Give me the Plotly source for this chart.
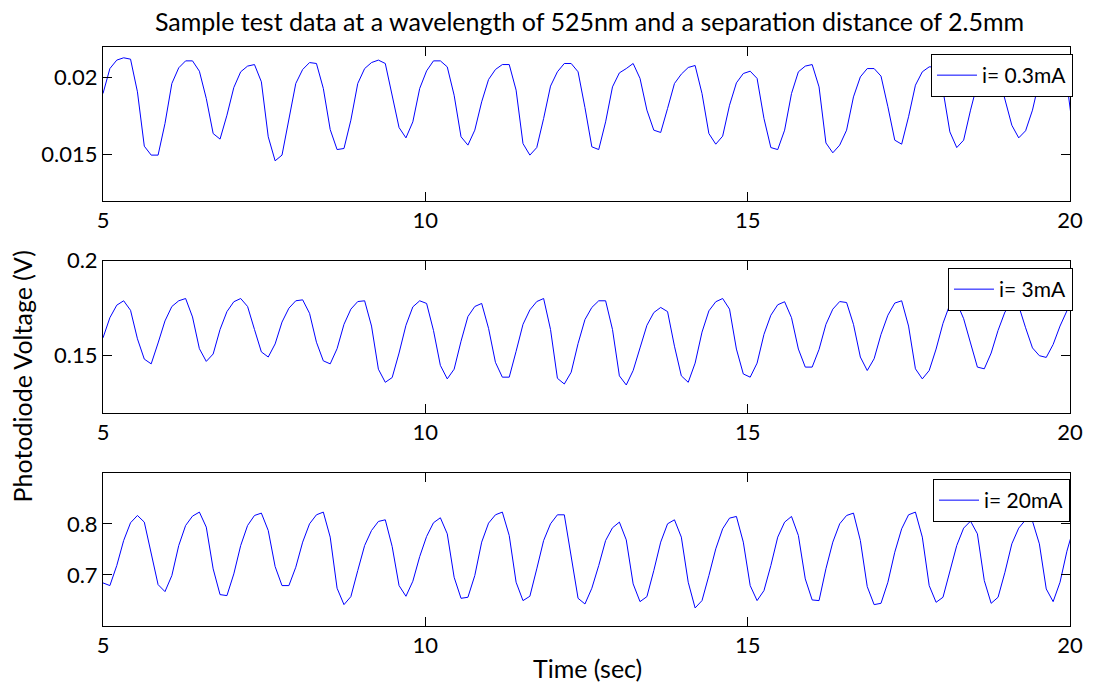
import plotly.graph_objects as go

# ---- data ----
T0 = 5.0          # first sample time (s)
DT = 0.1068       # sample spacing (s)

v_03mA = [0.01896, 0.02058, 0.02113, 0.02128, 0.02119, 0.01907, 0.01554, 0.01496, 0.01496, 0.01701,
          0.01961, 0.02063, 0.02108, 0.02108, 0.02041, 0.01864, 0.01636, 0.01600, 0.01755, 0.01935,
          0.02037, 0.02074, 0.02084, 0.01972, 0.01615, 0.01459, 0.01496, 0.01723, 0.01961, 0.02052,
          0.02097, 0.02091, 0.01929, 0.01662, 0.01532, 0.01539, 0.01723, 0.01961, 0.02058, 0.02097,
          0.02113, 0.02091, 0.01885, 0.01675, 0.01608, 0.01712, 0.01929, 0.02043, 0.02108, 0.02108,
          0.02069, 0.01885, 0.01615, 0.01561, 0.01658, 0.01842, 0.01987, 0.02052, 0.02084, 0.02084,
          0.01918, 0.01571, 0.01496, 0.01545, 0.01734, 0.01944, 0.02037, 0.02091, 0.02091, 0.02037,
          0.01805, 0.01550, 0.01532, 0.01712, 0.01939, 0.02030, 0.02058, 0.02091, 0.01994, 0.01788,
          0.01658, 0.01643, 0.01799, 0.01961, 0.02022, 0.02065, 0.02078, 0.01896, 0.01636, 0.01567,
          0.01619, 0.01820, 0.01965, 0.02026, 0.02041, 0.01994, 0.01734, 0.01545, 0.01532, 0.01658,
          0.01896, 0.02037, 0.02074, 0.02084, 0.01939, 0.01575, 0.01511, 0.01561, 0.01658, 0.01874,
          0.02004, 0.02058, 0.02058, 0.02009, 0.01810, 0.01593, 0.01567, 0.01745, 0.01950, 0.02037,
          0.02069, 0.02069, 0.01918, 0.01647, 0.01545, 0.01593, 0.01788, 0.01961, 0.02037, 0.02058,
          0.02026, 0.01864, 0.01690, 0.01608, 0.01654, 0.01788, 0.01983, 0.02048, 0.02069, 0.02058,
          0.01961, 0.01615]

v_3mA = [0.1594, 0.1700, 0.1766, 0.1789, 0.1739, 0.1589, 0.1482, 0.1457, 0.1567, 0.1683,
         0.1759, 0.1789, 0.1801, 0.1704, 0.1537, 0.1470, 0.1509, 0.1638, 0.1732, 0.1784,
         0.1801, 0.1759, 0.1638, 0.1520, 0.1493, 0.1562, 0.1677, 0.1750, 0.1789, 0.1794,
         0.1723, 0.1571, 0.1473, 0.1457, 0.1537, 0.1665, 0.1745, 0.1785, 0.1789, 0.1656,
         0.1429, 0.1360, 0.1385, 0.1514, 0.1660, 0.1757, 0.1789, 0.1775, 0.1633, 0.1449,
         0.1378, 0.1429, 0.1576, 0.1706, 0.1759, 0.1775, 0.1644, 0.1465, 0.1387, 0.1387,
         0.1523, 0.1665, 0.1741, 0.1785, 0.1801, 0.1638, 0.1381, 0.1351, 0.1413, 0.1564,
         0.1690, 0.1754, 0.1789, 0.1789, 0.1638, 0.1394, 0.1346, 0.1422, 0.1541, 0.1660,
         0.1727, 0.1754, 0.1732, 0.1550, 0.1394, 0.1360, 0.1461, 0.1624, 0.1736, 0.1784,
         0.1801, 0.1745, 0.1535, 0.1404, 0.1387, 0.1461, 0.1612, 0.1713, 0.1768, 0.1784,
         0.1700, 0.1535, 0.1440, 0.1440, 0.1533, 0.1665, 0.1745, 0.1785, 0.1780, 0.1665,
         0.1493, 0.1422, 0.1484, 0.1612, 0.1713, 0.1777, 0.1789, 0.1656, 0.1431, 0.1378,
         0.1422, 0.1535, 0.1670, 0.1770, 0.1780, 0.1695, 0.1567, 0.1440, 0.1431, 0.1514,
         0.1633, 0.1730, 0.1771, 0.1762, 0.1647, 0.1541, 0.1500, 0.1491, 0.1559, 0.1656,
         0.1736, 0.1789]

v_20mA = [0.6843, 0.6791, 0.7183, 0.7673, 0.8020, 0.8163, 0.8033, 0.7412, 0.6810, 0.6673,
          0.6987, 0.7575, 0.7967, 0.8150, 0.8229, 0.7935, 0.7118, 0.6614, 0.6595, 0.7020,
          0.7575, 0.7967, 0.8163, 0.8209, 0.7869, 0.7163, 0.6791, 0.6791, 0.7150, 0.7641,
          0.8000, 0.8176, 0.8229, 0.7739, 0.6739, 0.6418, 0.6575, 0.7085, 0.7575, 0.7869,
          0.8046, 0.8078, 0.7556, 0.6791, 0.6582, 0.6876, 0.7359, 0.7752, 0.8020, 0.8118,
          0.7804, 0.6954, 0.6542, 0.6562, 0.6987, 0.7641, 0.8013, 0.8176, 0.8229, 0.7771,
          0.6856, 0.6497, 0.6582, 0.7118, 0.7673, 0.8000, 0.8176, 0.8176, 0.7379, 0.6542,
          0.6431, 0.6739, 0.7183, 0.7673, 0.7922, 0.8033, 0.7686, 0.6824, 0.6477, 0.6575,
          0.7085, 0.7641, 0.8000, 0.8078, 0.7739, 0.6856, 0.6353, 0.6497, 0.6987, 0.7510,
          0.7902, 0.8111, 0.8144, 0.7641, 0.6791, 0.6497, 0.6693, 0.7183, 0.7739, 0.8033,
          0.8144, 0.7771, 0.6922, 0.6510, 0.6497, 0.7120, 0.7641, 0.8000, 0.8163, 0.8209,
          0.7673, 0.6771, 0.6418, 0.6444, 0.6856, 0.7444, 0.7902, 0.8176, 0.8229, 0.7739,
          0.6791, 0.6464, 0.6562, 0.7052, 0.7575, 0.7915, 0.8052, 0.7804, 0.6889, 0.6444,
          0.6562, 0.7052, 0.7608, 0.7915, 0.8078, 0.8052, 0.7608, 0.6725, 0.6477, 0.6856,
          0.7464, 0.7935]

series_names = ["i= 0.3mA", "i= 3mA", "i= 20mA"]
x_ticks = [5, 10, 15, 20]
y_ticks = [[0.015, 0.02], [0.15, 0.2], [0.7, 0.8]]
y_tick_text = [["0.015", "0.02"], ["0.15", "0.2"], ["0.7", "0.8"]]
y_ranges = [[0.012, 0.022], [0.12, 0.2], [0.6, 0.9]]
x_range = [5, 20]

title_text = "Sample test data at a wavelength of 525nm and a separation distance of 2.5mm"
y_title = "Photodiode Voltage (V)"
x_title = "Time (sec)"

# ---- figure ----
FONT = "Lato, Open Sans, sans-serif"
W, H = 1095, 687
ML, MR, MT, MB = 103, 20, 46, 61
plot_w = W - ML - MR
plot_h = H - MT - MB

def yfrac(px):
    return (H - MB - px) / plot_h

def xfrac(px):
    return (px - ML) / plot_w

domains = [[yfrac(200.7), yfrac(46.7)], [yfrac(412.7), yfrac(260.7)], [yfrac(626), yfrac(472.7)]]
legend_pos = [(xfrac(1078), yfrac(54)), (xfrac(1078), yfrac(268)), (xfrac(1075), yfrac(479))]

all_vals = [v_03mA, v_3mA, v_20mA]
fig = go.Figure()
for k, vals in enumerate(all_vals):
    t = [T0 + DT * i for i in range(len(vals))]
    ax = "" if k == 0 else str(k + 1)
    fig.add_trace(go.Scatter(
        x=t, y=vals, mode="lines", name=series_names[k],
        line=dict(color="#0000FF", width=1),
        xaxis="x" + ax, yaxis="y" + ax,
        legend="legend" + ax, showlegend=True))

layout = dict(
    width=W, height=H,
    margin=dict(l=ML, r=MR, t=MT, b=MB),
    paper_bgcolor="white", plot_bgcolor="white",
    font=dict(family=FONT, size=22, color="black"),
    title=dict(text=title_text, x=xfrac(592), xanchor="center", xref="paper",
               y=1 - 22 / H, yanchor="middle", yref="container",
               font=dict(family=FONT, size=25, color="black")),
)
for k in range(3):
    ax = "" if k == 0 else str(k + 1)
    layout["xaxis" + ax] = dict(
        domain=[0, 1], range=x_range, anchor="y" + ax,
        tickvals=x_ticks, ticktext=[str(v) for v in x_ticks],
        ticks="inside", ticklen=9, tickcolor="black", tickwidth=1,
        showline=True, linecolor="black", linewidth=1, mirror="ticks",
        showgrid=False, zeroline=False, tickfont=dict(size=22))
    layout["yaxis" + ax] = dict(
        domain=domains[k], range=y_ranges[k], anchor="x" + ax,
        tickvals=y_ticks[k], ticktext=y_tick_text[k],
        ticks="inside", ticklen=9, tickcolor="black", tickwidth=1,
        showline=True, linecolor="black", linewidth=1, mirror="ticks",
        showgrid=False, zeroline=False, tickfont=dict(size=22))
    lx, ly = legend_pos[k]
    layout["legend" + ax] = dict(
        x=lx, y=ly, xanchor="right", yanchor="top",
        xref="paper", yref="paper",
        bgcolor="white", bordercolor="black", borderwidth=1,
        font=dict(family=FONT, size=21, color="black"),
        itemwidth=40, tracegroupgap=0)

fig.update_layout(**layout)
fig.add_annotation(text=y_title, textangle=-90, xref="paper", yref="paper",
                   x=xfrac(22), y=yfrac(376), showarrow=False,
                   xanchor="center", yanchor="middle", font=dict(family=FONT, size=25))
fig.add_annotation(text=x_title, xref="paper", yref="paper",
                   x=xfrac(590), y=yfrac(668), showarrow=False,
                   xanchor="center", yanchor="middle", font=dict(family=FONT, size=25))

fig.write_html("out.html")
